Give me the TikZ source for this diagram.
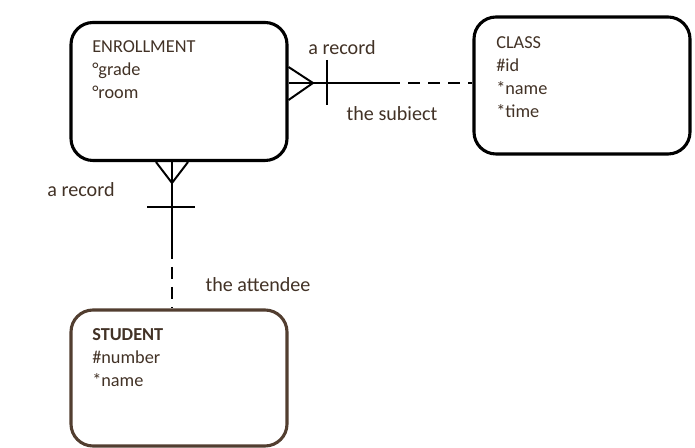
\documentclass[tikz,border=0pt]{standalone}
\usepackage{fontspec}
\setmainfont{Carlito}
\usepackage{tikz}
\usetikzlibrary{calc,positioning}
\definecolor{tb}{RGB}{66,50,38}
\definecolor{sbr}{RGB}{82,62,48}

\begin{document}
\begin{tikzpicture}[
  entity/.style={draw, line width=2.2pt, rounded corners=0.55cm, minimum width=5.4cm, minimum height=3.45cm},
  attrs/.style={anchor=north west, inner sep=0pt, align=left, text=tb, font=\fontsize{13}{16.4}\selectfont},
  lbl/.style={text=tb, font=\fontsize{14.3}{16}\selectfont, inner sep=0pt},
  rel/.style={line width=1.4pt},
  opt/.style={line width=1.4pt, dash pattern=on 0.3cm off 0.2cm}
]
\useasboundingbox (0,0) rectangle (17.375,11.2);
\node[entity] (enroll) at (4.475,8.9125) {};
\node[entity, minimum height=3.425cm] (class) at (14.55,9.0625) {};
\node[entity, draw=sbr, minimum height=3.4cm] (student) at (4.475,1.75) {};
\node[attrs] (enrollT) at (2.3,10.2) {ENROLLMENT\\°grade\\°room};
\node[attrs] (classT) at (12.4,10.3) {CLASS\\\#id\\*name\\*time};
\node[attrs] (studentT) at (2.3,3.0) {\textbf{STUDENT}\\\#number\\*name};
% enrollment -- class
\coordinate (cfA) at (7.825,9.125);
\coordinate (barA) at (8.175,9.125);
\coordinate (brkA) at (9.7,9.125);
\draw[rel] (enroll.east |- cfA) -- (brkA);
\draw[rel] ($(enroll.east |- cfA)+(0,0.4)$) -- (cfA) -- ($(enroll.east |- cfA)+(0,-0.425)$);
\draw[rel] ($(barA)+(0,0.575)$) -- ($(barA)+(0,-0.55)$);
\draw[opt] (brkA) -- (class.west |- brkA);
\node[lbl] (recA) at (8.55,10.0) {a record};
\node[lbl] (subj) at (9.8,8.35) {the subiect};
% enrollment -- student
\coordinate (cfB) at (4.3,6.625);
\coordinate (barB) at (4.3,6.025);
\coordinate (brkB) at (4.3,5.025);
\draw[rel] (cfB |- enroll.south) -- (brkB);
\draw[rel] ($(cfB |- enroll.south)+(-0.4,0)$) -- (cfB) -- ($(cfB |- enroll.south)+(0.4,0)$);
\draw[rel] ($(barB)+(-0.625,0)$) -- ($(barB)+(0.575,0)$);
\draw[opt] (brkB) -- (brkB |- student.north);
\node[lbl] (recB) at (2.025,6.45) {a record};
\node[lbl] (att) at (6.45,4.075) {the attendee};
\end{tikzpicture}
\end{document}
